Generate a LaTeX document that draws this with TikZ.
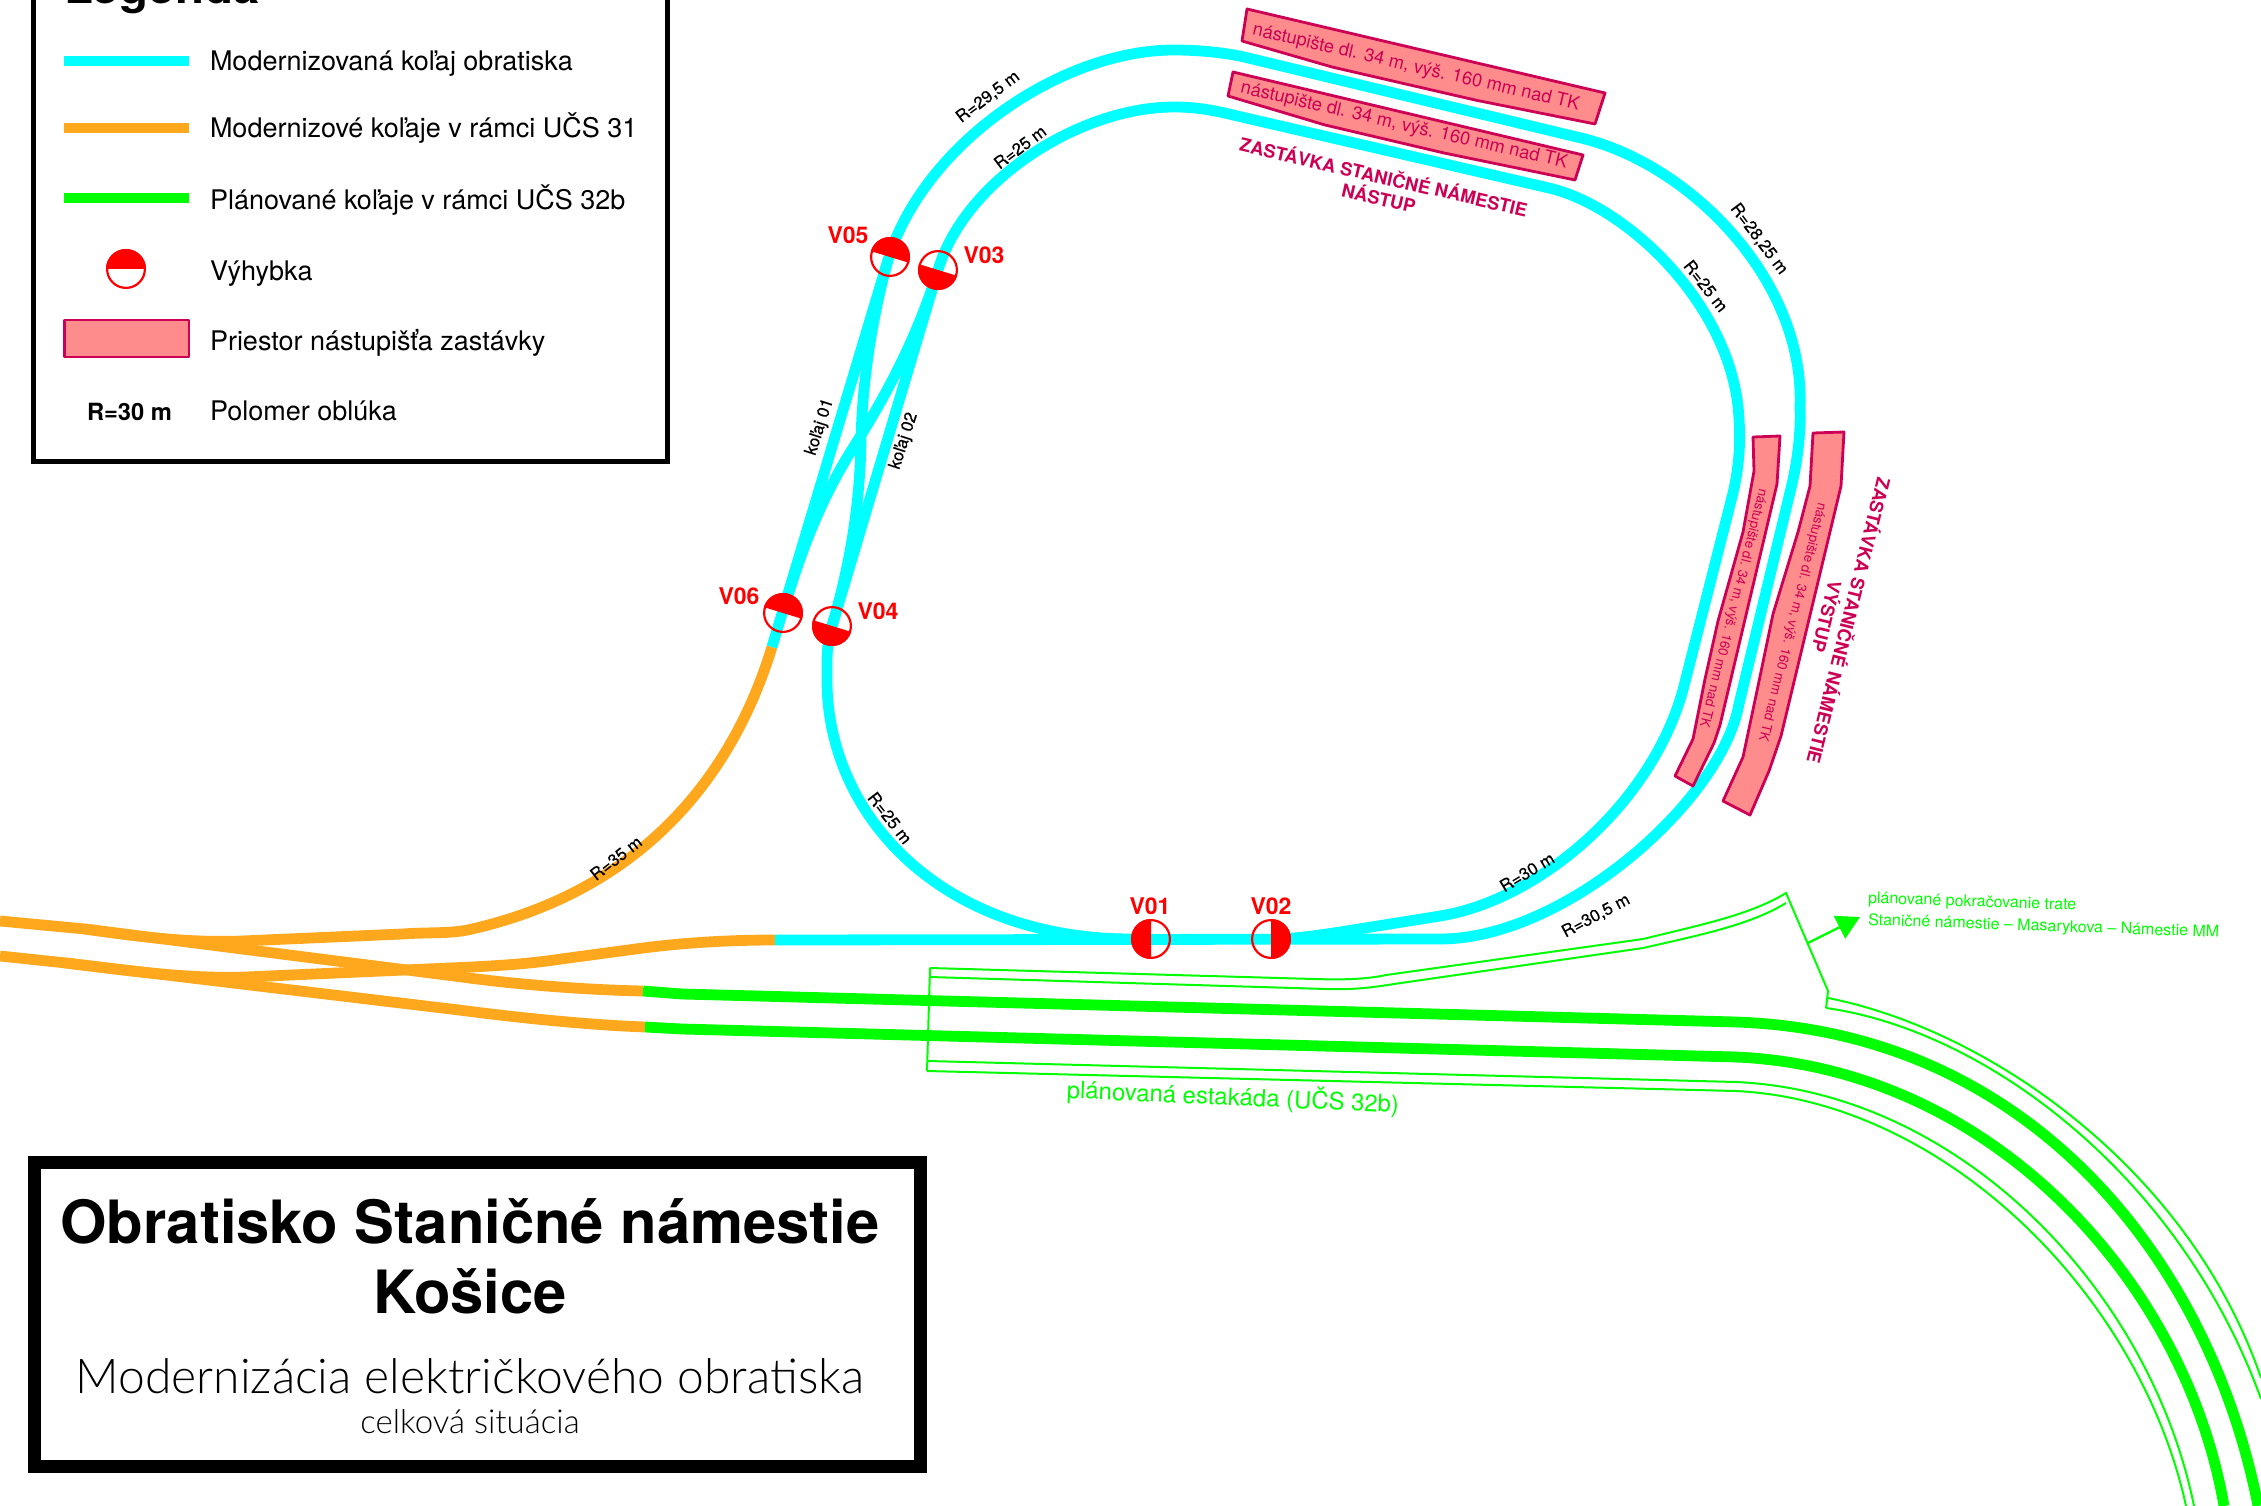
\documentclass[tikz,border=0pt]{standalone}
\usepackage{fontspec}
\usetikzlibrary{arrows.meta}
\setmainfont{TeX Gyre Heros}
\newfontfamily\lightf{Lato Light}
\newfontfamily\medf[FakeBold=0.5]{TeX Gyre Heros}
\definecolor{tcyan}{RGB}{0,255,255}
\definecolor{torange}{RGB}{255,168,30}
\definecolor{tgreen}{RGB}{0,255,0}
\definecolor{pfill}{RGB}{255,140,140}
\definecolor{pline}{RGB}{204,0,85}
\newcommand{\fsz}[1]{\fontsize{#1pt}{#1pt}\selectfont}
\newcommand{\vyh}[3]{%
  \fill[red,shift={(#1,#2)},rotate=#3] (20pt,0pt) arc[start angle=0,end angle=180,radius=20pt] -- cycle;
  \draw[red,line width=2.2pt,shift={(#1,#2)}] (0pt,0pt) circle[radius=18.9pt];}
\tikzset{
  every node/.style={inner sep=0pt,outer sep=0pt},
  cyantrack/.style={draw=tcyan,line width=10.8pt,line cap=butt},
  orangetrack/.style={draw=torange,line width=10.8pt,line cap=butt},
  greentrack/.style={draw=tgreen,line width=10.8pt,line cap=butt},
  viaduct/.style={draw=tgreen,line width=2pt,line join=miter},
  platform/.style={fill=pfill,draw=pline,line width=2.8pt,line join=round},
  frame/.style={draw=black,line width=5pt,fill=white},
  vlabel/.style={text=red,font=\bfseries\fsz{23}},
  rlabel/.style={text=black,font=\medf\fsz{17}},
  pltext/.style={text=pline,font=\fsz{18.3}},
  pltitle/.style={text=pline,font=\bfseries\fsz{18.3}},
  legtext/.style={anchor=base west,text=black,font=\fsz{27}},
  grtext/.style={text=tgreen}
}
\begin{document}
\begin{tikzpicture}[x=1pt,y=-1pt]
\useasboundingbox (0,0) rectangle (2261,1506);
\clip (0,0) rectangle (2261,1506);
% --- orange tracks
\path[orangetrack] (0,921) -- (85,929) -- (462,977) .. controls (520,985) and (590,990) .. (643,991);
\path[orangetrack] (0,956) -- (66,963) -- (459,1010) .. controls (520,1018) and (590,1025) .. (645,1027);
\path[orangetrack] (85,929) .. controls (140,937) and (190,943) .. (242,941) -- (402,934) .. controls (430,932) and (452,934) .. (472,929) .. controls (620,895) and (725,800) .. (772,647);
\path[orangetrack] (66,963) .. controls (130,971) and (190,979) .. (246,977) -- (472,967) .. controls (510,965) and (535,963) .. (561,959) -- (643,948) .. controls (690,942) and (735,940) .. (775,940);
% --- green tracks
\path[greentrack] (643,991) -- (682,994) -- (1736,1022) .. controls (2030,1032) and (2210,1260) .. (2258,1506);
\path[greentrack] (645,1027) -- (682,1029) -- (1736,1057) .. controls (1990,1068) and (2185,1280) .. (2224,1506);
% --- viaduct outlines
\path[viaduct] (930,968) -- (927,1071);
\path[viaduct] (930,968) -- (1314,979) .. controls (1345,980) and (1368,979) .. (1386,975) -- (1643,939) .. controls (1700,925) and (1750,915) .. (1786,893) -- (1828,991) -- (1826,1008);
\path[viaduct] (930,977) -- (1326,989) .. controls (1355,990) and (1375,987) .. (1394,984) -- (1643,948) .. controls (1700,935) and (1750,925) .. (1786,903);
\path[viaduct] (928,1061) -- (1736,1082) .. controls (1960,1092) and (2150,1290) .. (2194,1506);
\path[viaduct] (927,1071) -- (1736,1091) .. controls (1945,1101) and (2140,1295) .. (2186,1506);
\path[viaduct] (1828,998) .. controls (1990,1030) and (2190,1170) .. (2261,1378);
\path[viaduct] (1826,1008) .. controls (1985,1030) and (2180,1175) .. (2261,1399);
\coordinate (arrowstart) at (1808,943);
\coordinate (arrowtip) at (1860,917);
\draw[tgreen,line width=2.4pt,-{Triangle[length=23pt,width=25pt]}] (arrowstart) -- (arrowtip);
% --- cyan tracks
\path[cyantrack] (772,647) -- (888,260) .. controls (923,145) and (1060,50) .. (1174,50) .. controls (1195,50) and (1222,52) .. (1244,57) -- (1581,138) .. controls (1690,164) and (1805,280) .. (1800,407) .. controls (1801,430) and (1798,458) .. (1792,484) -- (1739,704) .. controls (1722,800) and (1565,939) .. (1440,939) -- (775,940);
\path[cyantrack] (832,626) -- (938,270) .. controls (965,180) and (1080,107) .. (1174,107) .. controls (1195,107) and (1213,110) .. (1233,115) -- (1549,188) .. controls (1630,207) and (1735,310) .. (1739,420) .. controls (1741,445) and (1738,472) .. (1733,493) -- (1684,686) .. controls (1654,802) and (1540,900) .. (1440,916) -- (1340,932) .. controls (1320,935) and (1295,939) .. (1271,939);
\path[cyantrack] (832,626) .. controls (826,645) and (827,662) .. (827,680) .. controls (827,815) and (940,938) .. (1130,939) -- (1150,939);
\path[cyantrack] (888,260) .. controls (870,325) and (862,390) .. (861,440) .. controls (860,505) and (850,565) .. (832,626);
\path[cyantrack] (938,270) .. controls (915,345) and (880,405) .. (853,448) .. controls (825,492) and (802,545) .. (783,613);
% --- platforms
\path[platform] (1247,9) -- (1605,93) -- (1595,124) -- (1475,100) -- (1332,67) -- (1242,41) -- cycle;
\path[platform] (1233,72) -- (1583,155) -- (1575,180) -- (1444,153) -- (1325,125) -- (1228,96) -- cycle;
\path[platform] (1753,437) -- (1780,436) -- (1777,484) -- (1720,725) -- (1714,743) -- (1693,786) -- (1675,776) -- (1693,739) -- (1705,679) -- (1718,621) -- (1743,532) -- (1754,471) -- cycle;
\path[platform] (1813,433) -- (1844,432) -- (1841,486) -- (1781,736) -- (1769,771) -- (1750,815) -- (1723,801) -- (1743,757) -- (1758,686) -- (1773,614) -- (1798,532) -- (1810,486) -- cycle;
% --- platform texts
\node[pltext,rotate=-13] (pt1) at (1416,68) {nástupište dl. 34 m, výš. 160 mm nad TK};
\node[pltext,rotate=-13] (pt2) at (1404,126) {nástupište dl. 34 m, výš. 160 mm nad TK};
\node[pltext,rotate=-104,font=\fsz{13.4}] (pt3) at (1733,608) {nástupište dl. 34 m, výš. 160 mm nad TK};
\node[pltext,rotate=-104,font=\fsz{13.4}] (pt4) at (1792,622) {nástupište dl. 34 m, výš. 160 mm nad TK};
\node[pltitle,rotate=-13] (zn1) at (1384,176) {ZASTÁVKA STANIČNÉ NÁMESTIE};
\node[pltitle,rotate=-13] (zn2) at (1379,197) {NÁSTUP};
\node[pltitle,rotate=-104] (zv1) at (1850,621) {ZASTÁVKA STANIČNÉ NÁMESTIE};
\node[pltitle,rotate=-104] (zv2) at (1828,617) {VÝSTUP};
% --- radius labels
\node[rlabel,rotate=37] (r1) at (988,97) {R=29,5 m};
\node[rlabel,rotate=37] (r2) at (1020,147) {R=25 m};
\node[rlabel,rotate=-53] (r3) at (1759,239) {R=28,25 m};
\node[rlabel,rotate=-52] (r4) at (1706,286) {R=25 m};
\node[rlabel,rotate=-52] (r5) at (890,818) {R=25 m};
\node[rlabel,rotate=31] (r6) at (1527,872) {R=30 m};
\node[rlabel,rotate=28] (r7) at (1596,916) {R=30,5 m};
\node[rlabel,rotate=38] (r8) at (616,858) {R=35 m};
\node[rlabel,rotate=72] (k1) at (820,427) {koľaj 01};
\node[rlabel,rotate=72] (k2) at (904,441) {koľaj 02};
% --- switches
\vyh{890}{257}{-17}
\vyh{938}{270}{163}
\vyh{783}{613}{-17}
\vyh{832}{626}{163}
\vyh{1151}{939}{90}
\vyh{1271}{939}{-90}
\node[vlabel] (v5) at (848,235) {V05};
\node[vlabel] (v3) at (984,255) {V03};
\node[vlabel] (v6) at (739,596) {V06};
\node[vlabel] (v4) at (878,611) {V04};
\node[vlabel] (v1) at (1150,906) {V01};
\node[vlabel] (v2) at (1271,906) {V02};
% --- green texts
\node[grtext,rotate=-2.5,font=\fsz{23.9}] (est) at (1233,1097) {plánovaná estakáda (UČS 32b)};
\node[grtext,rotate=-2,anchor=base west,font=\fsz{16}] (pok1) at (1868,903) {plánované pokračovanie trate};
\node[grtext,rotate=-2,anchor=base west,font=\fsz{16}] (pok2) at (1868,925) {Staničné námestie – Masarykova – Námestie MM};
% --- legend
\path[frame] (33,-20) rectangle (667,461);
\node[anchor=base west,font=\bfseries\fsz{47.4}] (legt) at (64,3.5) {Legenda};
\path[cyantrack] (64,61) coordinate (l1a) -- (189,61) coordinate (l1b);
\path[orangetrack] (64,128) coordinate (l2a) -- (189,128) coordinate (l2b);
\path[greentrack] (64,198) coordinate (l3a) -- (189,198) coordinate (l3b);
\vyh{126}{269}{0}
\path[platform] (64.5,320) rectangle (189,357);
\node[anchor=base,font=\bfseries\fsz{23.7}] (lr) at (129.5,420) {R=30 m};
\node[legtext] (lt1) at (210,71) {Modernizovaná koľaj obratiska};
\node[legtext] (lt2) at (210,138) {Modernizové koľaje v rámci UČS 31};
\node[legtext] (lt3) at (210,210) {Plánované koľaje v rámci UČS 32b};
\node[legtext] (lt4) at (210,280) {Výhybka};
\node[legtext] (lt5) at (210,350) {Priestor nástupišťa zastávky};
\node[legtext] (lt6) at (210,420) {Polomer oblúka};
% --- title block
\path[draw=black,line width=13pt,fill=white] (34.5,1162.5) rectangle (920,1466.5);
\node[anchor=base,font=\bfseries\fsz{59.7}] (t1) at (470,1243) {Obratisko Staničné námestie};
\node[anchor=base,font=\bfseries\fsz{59.7}] (t2) at (470,1313) {Košice};
\node[anchor=base,font=\lightf\fsz{48}] (t3) at (470,1393) {Modernizácia električkového obratiska};
\node[anchor=base,font=\lightf\fsz{33}] (t4) at (470,1433) {celková situácia};
\end{tikzpicture}
\end{document}
